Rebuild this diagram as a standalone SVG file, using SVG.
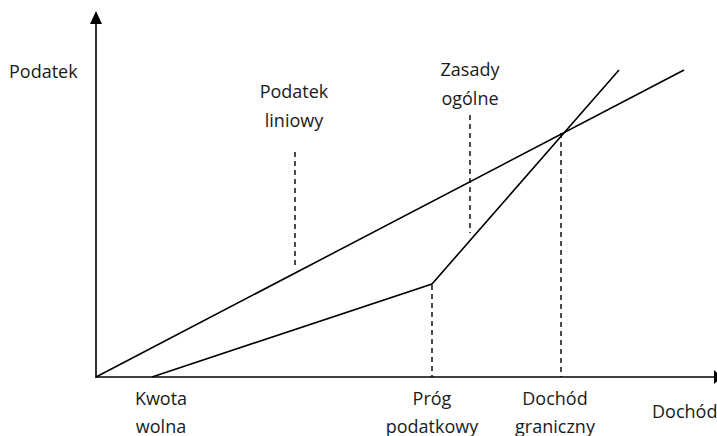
<svg xmlns="http://www.w3.org/2000/svg" width="717" height="436" viewBox="0 0 717 436">
<style>
.ln{stroke:#000;stroke-width:1.6;fill:none}
.ds{stroke:#000;stroke-width:1.4;fill:none;stroke-dasharray:5 4}
text{font-family:"Open Sans","Liberation Sans",Arial,sans-serif;font-size:18px;fill:#1a1a1a}
.c{text-anchor:middle}
</style>
<rect width="717" height="436" fill="#fff"/>
<g id="axes">
<line class="ln" x1="96" y1="378" x2="96" y2="22"/>
<polygon points="96,11 90,24 102,24" fill="#000"/>
<line class="ln" x1="96" y1="377" x2="716" y2="377"/>
<polygon points="714,370 722,377 714,384" fill="#000"/>
</g>
<g id="connectors">
<line class="ln" x1="96" y1="377" x2="684" y2="70"/>
<polyline class="ln" points="152,377 432,284 619,70"/>
<line class="ds" x1="295" y1="152" x2="295" y2="266"/>
<line class="ds" x1="470" y1="115" x2="470" y2="233"/>
<line class="ds" x1="432" y1="285" x2="432" y2="377"/>
<line class="ds" x1="561" y1="133" x2="561" y2="377"/>
</g>
<g id="labels">
<text x="9" y="78">Podatek</text>
<text class="c" x="294" y="98">Podatek</text>
<text class="c" x="294" y="127">liniowy</text>
<text class="c" x="470" y="76">Zasady</text>
<text class="c" x="470" y="105">ogólne</text>
<text class="c" x="161" y="405">Kwota</text>
<text class="c" x="161" y="433">wolna</text>
<text class="c" x="432" y="405">Próg</text>
<text class="c" x="432" y="433">podatkowy</text>
<text class="c" x="555" y="405">Dochód</text>
<text class="c" x="555" y="433">graniczny</text>
<text x="652" y="418">Dochód</text>
</g>
</svg>
